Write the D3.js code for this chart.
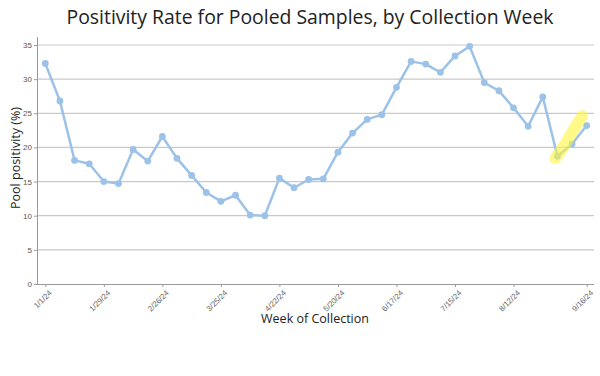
<!DOCTYPE html>
<html>
<head>
<meta charset="utf-8">
<script src="https://cdn.jsdelivr.net/npm/d3@7/dist/d3.min.js"></script>
<style>
  html, body { margin: 0; padding: 0; background: #fff; }
  svg { display: block; }
</style>
</head>
<body>
<svg id="chart" width="600" height="376"></svg>
<script>
// ---- data ----
const weeks = d3.range(0, 38); // weekly collection index starting 1/1/24
const positivity = [
  32.3, 26.8, 18.1, 17.6, 15.0, 14.7, 19.7, 18.0, 21.6, 18.4,
  15.9, 13.4, 12.1, 13.0, 10.1, 10.0, 15.5, 14.1, 15.3, 15.4,
  19.3, 22.1, 24.1, 24.8, 28.8, 32.6, 32.2, 31.0, 33.4, 34.8,
  29.5, 28.3, 25.8, 23.1, 27.4, 18.7, 20.5, 23.2
];
const tickWeeks = [0, 4, 8, 12, 16, 20, 24, 28, 32, 37];
const tickLabels = ["1/1/24", "1/29/24", "2/26/24", "3/25/24", "4/22/24", "5/20/24", "6/17/24", "7/15/24", "8/12/24", "9/16/24"];
const yTicks = [0, 5, 10, 15, 20, 25, 30, 35];
// hand-drawn highlight stroke over the last weeks (data space)
const highlightWeek = [34.85, 35.45, 36.1, 36.7];
const highlightValue = [18.4, 20.2, 22.6, 24.6];

const titleText = "Positivity Rate for Pooled Samples, by Collection Week";
const xTitle = "Week of Collection";
const yTitle = "Pool positivity (%)";

// ---- layout ----
const svg = d3.select("#chart");
const mLeft = 38, mRight = 594, mTop = 45, mBottom = 284;

const x = d3.scaleLinear().domain([-0.5, 37.5]).range([mLeft, mRight]);
const y = d3.scaleLinear().domain([0, 35]).range([mBottom, mTop]);

// gridlines
svg.append("g")
  .selectAll("line")
  .data(yTicks.filter(d => d > 0))
  .join("line")
  .attr("x1", mLeft).attr("x2", mRight)
  .attr("y1", d => y(d)).attr("y2", d => y(d))
  .attr("stroke", "#c9c9c9").attr("stroke-width", 1.2);

// y axis
const yAxis = svg.append("g")
  .attr("transform", `translate(${mLeft},0)`)
  .call(d3.axisLeft(y).tickValues(yTicks).tickSize(4).tickPadding(2));
yAxis.select(".domain").attr("stroke", "#9a9a9a").attr("d", `M-0.5,${mTop - 8}V${mBottom}`);
yAxis.selectAll(".tick line").attr("stroke", "#9a9a9a");
yAxis.selectAll(".tick text")
  .attr("fill", "#555").attr("font-size", 8)
  .attr("font-family", "Liberation Sans, Arial, sans-serif");

// x axis
const xAxis = svg.append("g")
  .attr("transform", `translate(0,${mBottom})`)
  .call(d3.axisBottom(x).tickValues(tickWeeks)
    .tickFormat((d, i) => tickLabels[i]).tickSize(3).tickPadding(2));
xAxis.select(".domain").attr("stroke", "#9a9a9a").attr("d", `M${mLeft},0.5H${mRight}`);
xAxis.selectAll(".tick line").attr("stroke", "#9a9a9a");
xAxis.selectAll(".tick text")
  .attr("fill", "#666").attr("font-size", 7.8)
  .attr("font-family", "Liberation Sans, Arial, sans-serif")
  .attr("text-anchor", "end")
  .attr("dy", "0")
  .attr("transform", "translate(3,6) rotate(-45)");

// line
const line = d3.line().x((d, i) => x(weeks[i])).y(d => y(d));
svg.append("path")
  .datum(positivity)
  .attr("d", line)
  .attr("fill", "none")
  .attr("stroke", "#9cc2e8")
  .attr("stroke-width", 2.5)
  .attr("stroke-linejoin", "round");

svg.append("g")
  .selectAll("circle")
  .data(positivity)
  .join("circle")
  .attr("cx", (d, i) => x(weeks[i]))
  .attr("cy", d => y(d))
  .attr("r", 3.4)
  .attr("fill", "#9cc2e8");

// highlight stroke
const hl = d3.line().curve(d3.curveCatmullRom)
  .x((d, i) => x(highlightWeek[i])).y(d => y(d));
svg.append("path")
  .datum(highlightValue)
  .attr("d", hl)
  .attr("fill", "none")
  .attr("stroke", "rgba(255,245,60,0.6)")
  .attr("stroke-width", 11.5)
  .attr("stroke-linecap", "round");

// titles
svg.append("text")
  .attr("x", 310).attr("y", 24)
  .attr("text-anchor", "middle")
  .attr("font-family", "Open Sans, sans-serif")
  .attr("font-size", 19.4)
  .attr("fill", "#222")
  .text(titleText);

svg.append("text")
  .attr("x", 315).attr("y", 323)
  .attr("text-anchor", "middle")
  .attr("font-family", "Open Sans, sans-serif")
  .attr("font-size", 12.5)
  .attr("fill", "#222")
  .text(xTitle);

svg.append("text")
  .attr("transform", "translate(20,158) rotate(-90)")
  .attr("text-anchor", "middle")
  .attr("font-family", "Open Sans, sans-serif")
  .attr("font-size", 12.5)
  .attr("fill", "#222")
  .text(yTitle);
</script>
</body>
</html>
